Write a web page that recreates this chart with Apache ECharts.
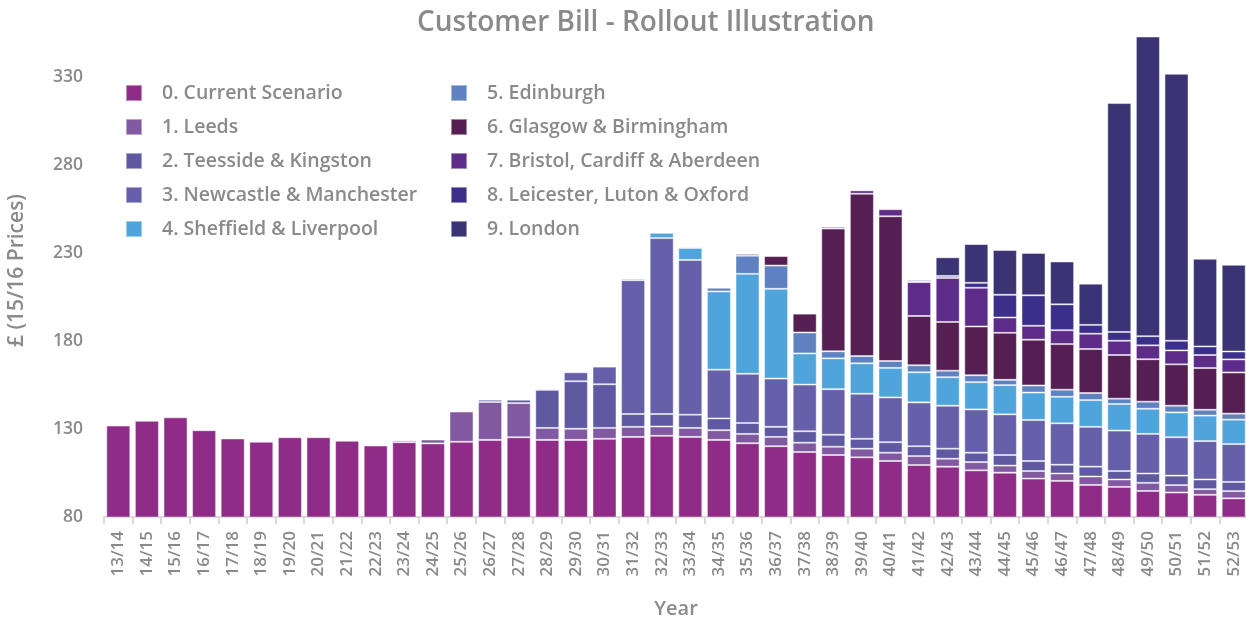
<!DOCTYPE html>
<html>
<head>
<meta charset="utf-8">
<title>Customer Bill - Rollout Illustration</title>
<script src="https://cdn.jsdelivr.net/npm/echarts@6/dist/echarts.min.js"></script>
<style>
  html, body { margin: 0; padding: 0; background: #ffffff; }
  #chart { width: 1246px; height: 618px; }
</style>
</head>
<body>
<div id="chart"></div>
<script>
// Financial years on the category axis
const years = [
  '13/14','14/15','15/16','16/17','17/18','18/19','19/20','20/21','21/22','22/23',
  '23/24','24/25','25/26','26/27','27/28','28/29','29/30','30/31','31/32','32/33',
  '33/34','34/35','35/36','36/37','37/38','38/39','39/40','40/41','41/42','42/43',
  '43/44','44/45','45/46','46/47','47/48','48/49','49/50','50/51','51/52','52/53'
];

// Bill components, £ (15/16 prices), stacked in this order
const currentScenario = [131.9,134.6,136.6,129.3,124.6,122.7,125.3,125.3,123.3,120.6,122.5,121.8,122.7,123.8,125.3,123.8,123.8,124.4,125.5,126.1,125.5,123.8,121.9,120.2,116.9,115.2,113.9,111.8,109.5,108.6,106.5,105.2,101.8,100.5,98.2,97.1,94.8,93.9,92.6,90.6];
const leeds = [0,0,0,0,0,0,0,0,0,0.6,1.0,2.2,17.2,21.5,19.4,6.8,6.3,6.2,5.7,5.3,5.1,5.5,5.3,5.3,5.3,4.7,4.9,4.7,5.1,4.5,4.7,4.0,4.3,4.2,4.8,4.2,4.6,4.2,3.2,4.1];
const teessideKingston = [0,0,0,0,0,0,0,0,0,0,0,0,0,1.3,1.9,21.6,27.0,24.8,7.3,7.1,7.5,6.7,6.2,5.7,6.5,6.8,5.6,6.0,5.6,5.7,5.3,6.0,5.7,5.0,5.6,4.8,5.3,5.4,5.5,5.2];
const newcastleManchester = [0,0,0,0,0,0,0,0,0,0,0,0,0,0,0,0.7,5.1,10.0,76.0,99.9,87.9,27.7,27.9,27.4,26.5,25.9,25.6,25.4,24.9,24.4,24.6,23.1,23.3,23.5,22.6,23.0,22.5,21.8,21.8,21.5];
const sheffieldLiverpool = [0,0,0,0,0,0,0,0,0,0,0,0,0,0,0,0,0,0,0.9,3.0,6.8,44.4,56.8,51.0,17.7,17.5,17.3,16.8,17.1,16.2,15.5,16.6,15.6,15.1,15.2,15.1,14.3,14.1,14.5,13.9];
const edinburgh = [0,0,0,0,0,0,0,0,0,0,0,0,0,0,0,0,0,0,0,0,0.7,2.1,10.3,13.2,11.9,4.0,4.1,3.9,4.0,3.7,3.9,3.0,4.0,4.0,4.0,3.0,4.0,3.8,3.3,3.4];
const glasgowBirmingham = [0,0,0,0,0,0,0,0,0,0,0,0,0,0,0,0,0,0,0,0,0,0,1.0,5.4,10.7,69.7,92.2,82.2,28.0,27.7,27.7,26.7,26.0,25.9,25.0,24.8,24.1,23.5,23.7,23.4];
const bristolCardiffAberdeen = [0,0,0,0,0,0,0,0,0,0,0,0,0,0,0,0,0,0,0,0,0,0,0,0,0,1.0,1.9,4.0,19.2,25.0,22.0,8.7,7.9,7.9,8.7,8.1,7.9,7.9,7.4,7.4];
const leicesterLutonOxford = [0,0,0,0,0,0,0,0,0,0,0,0,0,0,0,0,0,0,0,0,0,0,0,0,0,0,0,0,0.7,1.1,2.8,12.9,17.3,14.7,5.0,5.0,5.2,5.5,4.9,4.5];
const london = [0,0,0,0,0,0,0,0,0,0,0,0,0,0,0,0,0,0,0,0,0,0,0,0,0,0,0,0,0.8,10.6,22.0,25.4,24.1,24.3,23.4,130.0,170.2,151.6,49.8,49.2];

const seriesNames = [
  '0. Current Scenario', '1. Leeds', '2. Teesside & Kingston', '3. Newcastle & Manchester',
  '4. Sheffield & Liverpool', '5. Edinburgh', '6. Glasgow & Birmingham',
  '7. Bristol, Cardiff & Aberdeen', '8. Leicester, Luton & Oxford', '9. London'
];
const seriesValues = [
  currentScenario, leeds, teessideKingston, newcastleManchester, sheffieldLiverpool,
  edinburgh, glasgowBirmingham, bristolCardiffAberdeen, leicesterLutonOxford, london
];
const seriesColors = [
  '#8e2c87', '#8159a1', '#5e59a1', '#6660ab', '#50a4dc',
  '#5e81c1', '#561f54', '#5d2b88', '#3c2f8a', '#3a3474'
];

// Axis ticks
const yMin = 80, yMax = 360, yStep = 50;

const FONT = '"Open Sans", Lato, sans-serif';
const TEXT = '#8a8a8a';

const chart = echarts.init(document.getElementById('chart'), null, { renderer: 'canvas' });

const series = seriesNames.map((name, i) => ({
  name: name,
  type: 'bar',
  stack: 'bill',
  barCategoryGap: '16%',
  itemStyle: {
    color: seriesColors[i],
    borderColor: 'rgba(255,255,255,0.45)',
    borderWidth: 1
  },
  emphasis: { disabled: true },
  data: seriesValues[i].map(v => (v === 0 ? null : v))
}));

const legendBase = {
  orient: 'vertical',
  icon: 'rect',
  padding: 0,
  itemWidth: 16,
  itemHeight: 16,
  itemGap: 14,
  selectedMode: false,
  textStyle: {
    fontFamily: FONT,
    fontSize: 19.5,
    fontWeight: 600,
    color: TEXT,
    lineHeight: 20,
    padding: [0, 0, 0, 15]
  }
};

chart.setOption({
  animation: false,
  textStyle: { fontFamily: FONT },
  title: {
    text: 'Customer Bill - Rollout Illustration',
    left: 417,
    top: 9,
    padding: 0,
    textStyle: { fontFamily: FONT, fontSize: 28, fontWeight: 600, color: TEXT }
  },
  legend: [
    Object.assign({}, legendBase, { left: 125, top: 83, data: seriesNames.slice(0, 5) }),
    Object.assign({}, legendBase, { left: 450, top: 83, data: seriesNames.slice(5) })
  ],
  grid: {
    left: 104, right: -2, top: 24, bottom: 101,
    containLabel: false,
    outerBoundsMode: 'none'
  },
  xAxis: {
    type: 'category',
    data: years,
    name: 'Year',
    nameLocation: 'middle',
    nameGap: 82,
    nameTextStyle: { fontFamily: FONT, fontSize: 20, fontWeight: 600, color: TEXT },
    axisLine: { lineStyle: { color: '#d9d9d9', width: 2 } },
    axisTick: { show: true, length: 7, lineStyle: { color: '#d9d9d9', width: 2 } },
    axisLabel: { rotate: 90, fontSize: 17, fontWeight: 600, color: TEXT, margin: 14, fontFamily: FONT }
  },
  yAxis: {
    type: 'value',
    min: yMin,
    max: yMax,
    interval: yStep,
    name: '£ (15/16 Prices)',
    nameLocation: 'middle',
    nameRotate: 90,
    nameGap: 76,
    nameTextStyle: { fontFamily: FONT, fontSize: 21, fontWeight: 600, color: TEXT },
    axisLine: { show: false },
    axisTick: { show: false },
    splitLine: { show: false },
    axisLabel: {
      fontSize: 17.5, fontWeight: 600, color: TEXT, margin: 21, fontFamily: FONT,
      formatter: v => (v > 330 ? '' : String(v))
    }
  },
  series: series
});
</script>
</body>
</html>
